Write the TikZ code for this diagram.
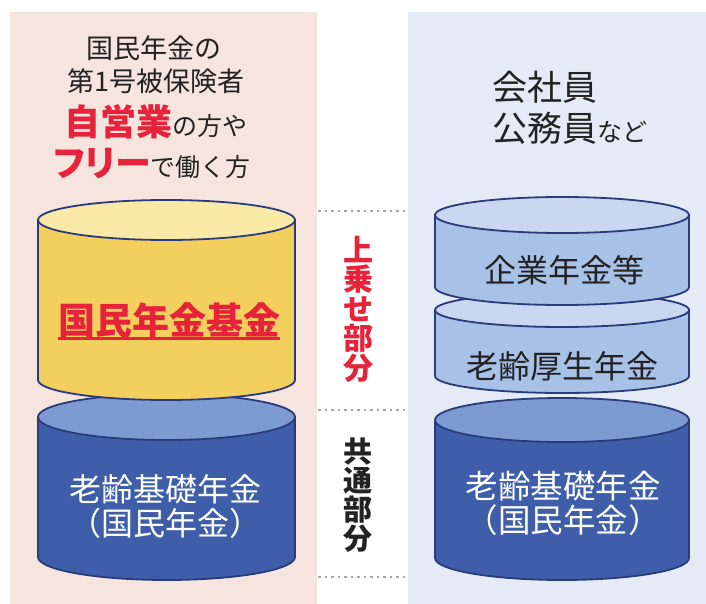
\documentclass[tikz,border=0pt]{standalone}
\usepackage{fontspec}
\setmainfont{Noto Sans CJK JP}
\newfontfamily\jpp[RawFeature=+palt]{Noto Sans CJK JP}
\definecolor{pinkbg}{HTML}{F6E5DF}
\definecolor{bluebg}{HTML}{E4EBF6}
\definecolor{ybody}{HTML}{F3CF5E}
\definecolor{ytop}{HTML}{F8E9A6}
\definecolor{dbody}{HTML}{3E5EAA}
\definecolor{dtop}{HTML}{7D9AD2}
\definecolor{lbody}{HTML}{A8C1E6}
\definecolor{ltop}{HTML}{C9D8F0}
\definecolor{outl}{HTML}{2A3B7C}
\definecolor{jred}{HTML}{E6233A}
\definecolor{jtxt}{HTML}{222222}
\newcommand\drawcyl[7]{%
  \filldraw[cylline, fill=#6] ({#1-#4},#2) -- ({#1-#4},#3)
    arc[start angle=180,end angle=360,x radius=#4pt,y radius=#5pt] -- ({#1+#4},#2) -- cycle;
  \filldraw[cylline, fill=#7] (#1,#2) ellipse[x radius=#4pt, y radius=#5pt];
}
\newcommand\fs[1]{\fontsize{#1}{#1}\selectfont}
\begin{document}
\begin{tikzpicture}[x=1pt,y=-1pt,
  cylline/.style={draw=outl, line width=1.8pt},
  dotline/.style={draw=gray!70, line width=2.2pt, dash pattern=on 2.5pt off 4pt},
  txt/.style={inner sep=0pt, text=jtxt, anchor=base}]
\useasboundingbox (0,0) rectangle (706,604);
\fill[pinkbg] (10,12) rectangle (317,604);
\fill[bluebg] (408,12) rectangle (706,604);

% left cylinders
\drawcyl{166.5}{417}{557}{128.5}{23}{dbody}{dtop}
\drawcyl{166.5}{220}{380}{128.5}{20}{ybody}{ytop}
% right cylinders
\drawcyl{562}{420}{558}{127}{22}{dbody}{dtop}
\drawcyl{562}{310}{376}{127}{17}{lbody}{ltop}
\drawcyl{562}{215}{287}{127}{18}{lbody}{ltop}

% left header
\node[txt] (t1) at (154,59) {\fs{27}国民年金の};
\node[txt] (t2) at (156,92) {\fs{27}第1号被保険者};
\node[txt] (t3) at (156,136) {{\fs{36}\bfseries\color{jred}自営業}{\fs{25}の方や}};
\node[txt] (t4) at (152,176) {{\jpp\fs{36}\bfseries\color{jred}フリー}{\fs{25}で働く方}};

% right header
\node[txt, anchor=base west] (r1) at (492,101) {\fs{35}会社員};
\node[txt, anchor=base west] (r2) at (492,142) {\fs{35}公務員{\fs{25}など}};

% cylinder labels
\node[txt, text=jred] (k1) at (169,334) {\fs{37}\bfseries 国民年金基金};
\draw[jred, line width=2.5pt] (58,338.5) -- (280,338.5);
\node[txt, text=white] (k2) at (165,501) {\fs{32}老齢基礎年金};
\node[txt, text=white] (k3) at (165,535) {\fs{32}（国民年金）};

\node[txt] (k4) at (564,282) {\fs{32}企業年金等};
\node[txt] (k5) at (562,378) {\fs{32}老齢厚生年金};
\node[txt, text=white] (k6) at (563,498) {\fs{32.5}老齢基礎年金};
\node[txt, text=white] (k7) at (563,532) {\fs{32.5}（国民年金）};

% middle
\draw[dotline] (318,211) -- (405,211);
\draw[dotline] (318,410) -- (405,410);
\draw[dotline] (318,577) -- (405,577);
\node[inner sep=0pt, text=jred, align=center, font=\fontsize{30}{29.5}\selectfont\bfseries] (m1) at (358,309) {上\\乗\\せ\\部\\分};
\node[inner sep=0pt, text=jtxt, align=center, font=\fontsize{29}{29}\selectfont\bfseries] (m2) at (358,495) {共\\通\\部\\分};
\end{tikzpicture}
\end{document}
